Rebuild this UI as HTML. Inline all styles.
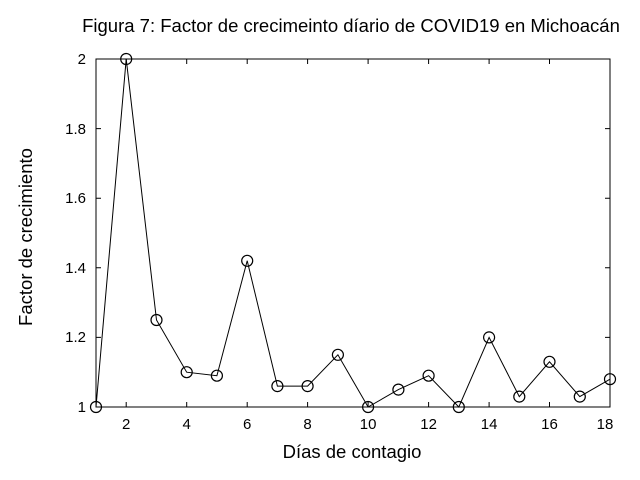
<!DOCTYPE html>
<html><head><style>body{margin:0;background:#fff}svg{display:block}</style></head><body>
<svg width="640" height="480" xmlns="http://www.w3.org/2000/svg" font-family="Liberation Sans, Arial, sans-serif">
<rect width="640" height="480" fill="#fff"/>
<text x="351" y="32" font-size="18.5" text-anchor="middle">Figura 7: Factor de crecimeinto díario de COVID19 en Michoacán</text>
<rect x="96" y="59" width="514" height="348" fill="none" stroke="#000" stroke-width="1"/>
<g stroke="#000" stroke-width="1">
<path d="M96 337.4h5M96 267.8h5M96 198.2h5M96 128.6h5M605 337.4h5M605 267.8h5M605 198.2h5M605 128.6h5"/>
<path d="M126.2 407v-5M186.7 407v-5M247.2 407v-5M307.6 407v-5M368.1 407v-5M428.6 407v-5M489.1 407v-5M549.5 407v-5M126.2 59v5M186.7 59v5M247.2 59v5M307.6 59v5M368.1 59v5M428.6 59v5M489.1 59v5M549.5 59v5"/>
</g>
<g font-size="15" text-anchor="end">
<text x="86" y="412">1</text><text x="86" y="342">1.2</text><text x="86" y="273">1.4</text><text x="86" y="203">1.6</text><text x="86" y="134">1.8</text><text x="86" y="64">2</text>
</g>
<g font-size="15" text-anchor="middle">
<text x="126.2" y="429">2</text><text x="186.7" y="429">4</text><text x="247.2" y="429">6</text><text x="307.6" y="429">8</text><text x="368.1" y="429">10</text><text x="428.6" y="429">12</text><text x="489.1" y="429">14</text><text x="549.5" y="429">16</text><text x="605" y="429">18</text>
</g>
<text x="352" y="458" font-size="18.5" text-anchor="middle">Días de contagio</text>
<text transform="translate(32,237) rotate(-90)" font-size="18.5" text-anchor="middle">Factor de crecimiento</text>
<polyline fill="none" stroke="#000" stroke-width="1" points="96,407 126.2,59 156.5,320 186.7,372.2 216.9,375.7 247.2,260.8 277.4,386.1 307.6,386.1 337.9,354.8 368.1,407 398.4,389.6 428.6,375.7 458.8,407 489.1,337.4 519.3,396.6 549.5,361.8 579.8,396.6 610,379.2"/>
<g fill="none" stroke="#000" stroke-width="1.2">
<circle cx="96" cy="407" r="5.5"/><circle cx="126.2" cy="59" r="5.5"/><circle cx="156.5" cy="320" r="5.5"/><circle cx="186.7" cy="372.2" r="5.5"/><circle cx="216.9" cy="375.7" r="5.5"/><circle cx="247.2" cy="260.8" r="5.5"/><circle cx="277.4" cy="386.1" r="5.5"/><circle cx="307.6" cy="386.1" r="5.5"/><circle cx="337.9" cy="354.8" r="5.5"/><circle cx="368.1" cy="407" r="5.5"/><circle cx="398.4" cy="389.6" r="5.5"/><circle cx="428.6" cy="375.7" r="5.5"/><circle cx="458.8" cy="407" r="5.5"/><circle cx="489.1" cy="337.4" r="5.5"/><circle cx="519.3" cy="396.6" r="5.5"/><circle cx="549.5" cy="361.8" r="5.5"/><circle cx="579.8" cy="396.6" r="5.5"/><circle cx="610" cy="379.2" r="5.5"/>
</g>
</svg>
</body></html>
